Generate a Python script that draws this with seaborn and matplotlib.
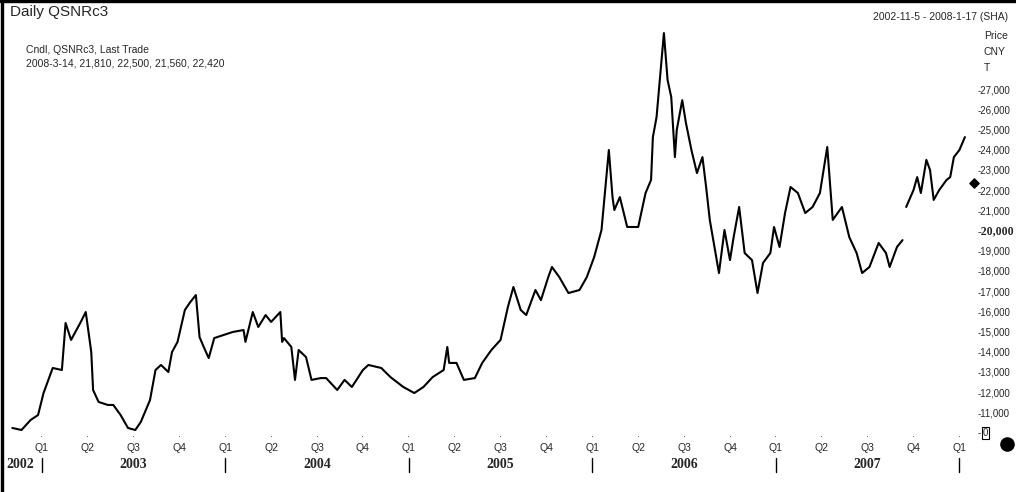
import numpy as np
import pandas as pd
import matplotlib
matplotlib.use("Agg")
import matplotlib.pyplot as plt
import seaborn as sns

sns.set_style("white")
plt.rcParams['font.family'] = ['Liberation Sans', 'DejaVu Sans']

# fractional-year time stamps and prices (CNY/T)
t1 = [2002.84, 2002.89, 2002.94, 2002.98, 2003.01, 2003.06, 2003.11, 2003.13, 2003.16, 2003.21,
      2003.24, 2003.27, 2003.28, 2003.31, 2003.36, 2003.39, 2003.43, 2003.47, 2003.51, 2003.54,
      2003.59, 2003.62, 2003.65, 2003.69, 2003.71, 2003.74, 2003.78, 2003.81, 2003.84, 2003.86,
      2003.89, 2003.91, 2003.94, 2003.99, 2004.04, 2004.10, 2004.11, 2004.15, 2004.18, 2004.22,
      2004.25, 2004.30, 2004.31, 2004.32, 2004.36, 2004.38, 2004.40, 2004.44, 2004.47, 2004.52,
      2004.55, 2004.61, 2004.65, 2004.69, 2004.75, 2004.78, 2004.85, 2004.90, 2004.97, 2005.03,
      2005.08, 2005.13, 2005.19, 2005.21, 2005.22, 2005.26, 2005.30, 2005.36, 2005.40, 2005.45,
      2005.50, 2005.54, 2005.57, 2005.61, 2005.64, 2005.69, 2005.72, 2005.76, 2005.78, 2005.82,
      2005.87, 2005.93, 2005.97, 2006.01, 2006.05, 2006.09, 2006.11, 2006.12, 2006.15, 2006.19,
      2006.25, 2006.29, 2006.32, 2006.33, 2006.35, 2006.39, 2006.41, 2006.43, 2006.45, 2006.46,
      2006.49, 2006.51, 2006.54, 2006.57, 2006.60, 2006.62, 2006.64, 2006.69, 2006.72, 2006.75,
      2006.77, 2006.80, 2006.83, 2006.87, 2006.90, 2006.93, 2006.97, 2006.99, 2007.02, 2007.05,
      2007.08, 2007.12, 2007.16, 2007.20, 2007.24, 2007.28, 2007.31, 2007.36, 2007.40, 2007.44,
      2007.47, 2007.51, 2007.56, 2007.60, 2007.62, 2007.66, 2007.69]
p1 = [10270, 10170, 10670, 10910, 12000, 13240, 13140, 15470, 14630, 15470,
      16010, 14030, 12150, 11560, 11410, 11410, 10910, 10270, 10170, 10570,
      11650, 13140, 13390, 13040, 14030, 14530, 16110, 16510, 16850, 14770,
      14130, 13730, 14720, 14870, 15020, 15120, 14530, 16010, 15270, 15860,
      15520, 16010, 14530, 14720, 14280, 12650, 14130, 13780, 12650, 12740,
      12740, 12150, 12650, 12300, 13140, 13390, 13240, 12790, 12300, 12000,
      12300, 12790, 13140, 14280, 13490, 13490, 12650, 12740, 13490, 14130,
      14630, 16260, 17250, 16110, 15860, 17100, 16600, 17740, 18240, 17740,
      16950, 17100, 17740, 18730, 20070, 24030, 21700, 21060, 21700, 20220,
      20220, 21900, 22550, 24670, 25660, 29820, 27500, 26650, 23680, 25020,
      26500, 25370, 24030, 22890, 23680, 22200, 20570, 17940, 20070, 18580,
      19720, 21210, 18930, 18580, 16950, 18440, 18930, 20220, 19230, 20910,
      22200, 21900, 20910, 21210, 21900, 24180, 20570, 21210, 19720, 18930,
      17940, 18240, 19430, 18930, 18240, 19230, 19570]
t2 = [2007.71, 2007.75, 2007.77, 2007.79, 2007.82, 2007.84, 2007.86, 2007.89, 2007.93, 2007.95,
      2007.97, 2008.00, 2008.03]
p2 = [21210, 22050, 22690, 21900, 23540, 23040, 21560, 22050, 22550, 22690,
      23680, 24030, 24670]

y_ticks = [11000, 12000, 13000, 14000, 15000, 16000, 17000, 18000, 19000, 20000,
           21000, 22000, 23000, 24000, 25000, 26000, 27000]
year_starts = [2003, 2004, 2005, 2006, 2007, 2008]
year_labels = ["2003", "2004", "2005", "2006", "2007"]

df = pd.concat([pd.DataFrame({"t": t1, "p": p1, "seg": 0}),
                pd.DataFrame({"t": t2, "p": p2, "seg": 1})])

W, H = 1016, 492
fig = plt.figure(figsize=(W / 100, H / 100), dpi=100)
AXH = 413
ax = fig.add_axes([5 / W, 1 - 440 / H, 970 / W, AXH / H])
sns.lineplot(data=df, x="t", y="p", units="seg", estimator=None,
             color="black", lw=1.5, ax=ax, legend=False)
ax.set_xlim(2002.80, 2008.085)
ax.set_ylim(9675, 30120)
for s in ax.spines.values():
    s.set_visible(False)
ax.set_xticks([]); ax.set_yticks([])
ax.set_xlabel(""); ax.set_ylabel("")

tr = ax.get_yaxis_transform()
for v in y_ticks:
    bold = v == 20000
    ax.text(1.003, v, f"-{v:,}", transform=tr, va="center", ha="left",
            fontsize=8.5 if bold else 7,
            fontweight="bold" if bold else "normal",
            family="Liberation Serif" if bold else None)
ax.text(1.003, 10000, "-", transform=tr, va="center", ha="left", fontsize=7)
ax.text(1.008, 10000, "0", transform=tr, va="center", ha="left", fontsize=7,
        bbox=dict(boxstyle="square,pad=0.1", fc="white", ec="black", lw=0.8))
ax.scatter([0.9985], [22420], transform=tr, marker="D", s=22, color="black", clip_on=False)
ax.scatter([1.0335], [9500], transform=tr, marker="o", s=90, color="black", clip_on=False)

def yf(px):
    return -px / AXH

xtr = ax.get_xaxis_transform()
qpos = [y0 + q * 0.25 for y0 in range(2003, 2008) for q in range(4)] + [2008.0]
for x in qpos:
    q = int(round((x % 1) * 4)) + 1
    ax.text(x, yf(-3), "·", transform=xtr, ha="center", va="center", fontsize=7)
    ax.text(x, yf(8), f"Q{q}", transform=xtr, ha="center", va="center", fontsize=7.5)
for x in year_starts:
    ax.plot([x, x], [yf(18), yf(32)], transform=xtr, color="black", lw=1, clip_on=False)
ax.text(2002.81, yf(25), "2002", transform=xtr, ha="left", va="center",
        fontsize=10, fontweight="bold", family="Liberation Serif")
for i, lab in enumerate(year_labels):
    ax.text(year_starts[i] + 0.5, yf(25), lab, transform=xtr, ha="center", va="center",
            fontsize=10, fontweight="bold", family="Liberation Serif")

fig.text(10 / W, 1 - 12 / H, "Daily QSNRc3", fontsize=11, va="center", ha="left")
fig.text(1008 / W, 1 - 17 / H, "2002-11-5 - 2008-1-17 (SHA)", fontsize=7.5, va="center", ha="right")
fig.text(26 / W, 1 - 50 / H, "Cndl, QSNRc3, Last Trade", fontsize=7.5, va="center")
fig.text(26 / W, 1 - 64 / H, "2008-3-14, 21,810, 22,500, 21,560, 22,420", fontsize=7.5, va="center")
for i, s in enumerate(["Price", "CNY", "T"]):
    fig.text(984 / W, 1 - (36 + 16 * i) / H, s, fontsize=7.5, va="center", ha="left")
fig.patches.append(plt.Rectangle((1 / W, 0), 2 / W, 1, transform=fig.transFigure, color="black"))
fig.patches.append(plt.Rectangle((0, 1 - 2 / H), 1, 2 / H, transform=fig.transFigure, color="black"))
fig.savefig("out.png", dpi=100)
